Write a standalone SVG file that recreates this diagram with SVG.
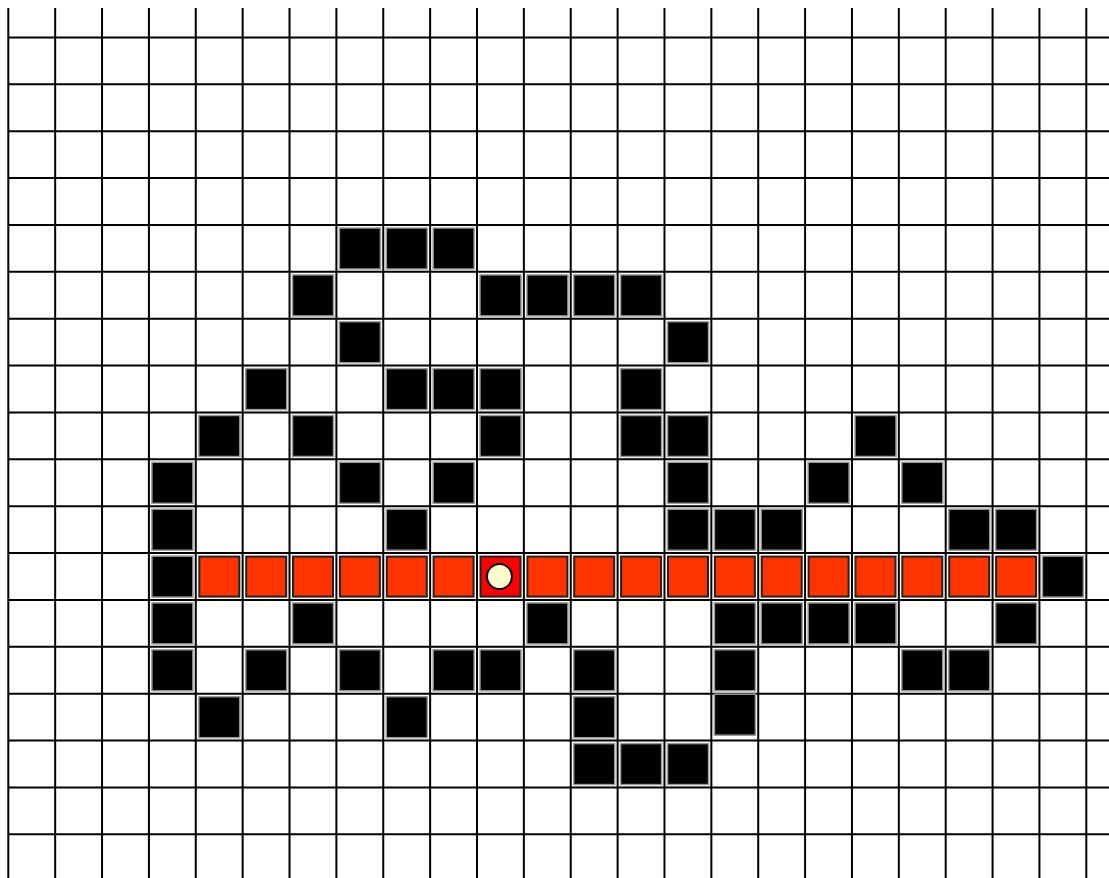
<svg xmlns="http://www.w3.org/2000/svg" xmlns:xlink="http://www.w3.org/1999/xlink" width="1109" height="878" viewBox="0 0 1109 878">
<style>
.grid{stroke:#000;stroke-width:2;fill:none}
.blk{fill:#000;stroke:#999;stroke-width:1.5}
.red{fill:#ff3300;stroke:#222;stroke-width:2}
.spc{fill:#ff0000;stroke:#222;stroke-width:2}
.dot{fill:#ffffcc;stroke:#000;stroke-width:2}
</style>
<defs>
<rect id="b" width="41" height="41" class="blk"/>
<rect id="r" width="40" height="40" class="red"/>
</defs>
<rect width="1109" height="878" fill="#fff"/>
<g id="grid" class="grid">
<path d="M8.3 8V878M55.17 8V878M102.04 8V878M148.91 8V878M195.78 8V878M242.65 8V878M289.52 8V878M336.39 8V878M383.26 8V878M430.13 8V878M477 8V878M523.87 8V878M570.74 8V878M617.61 8V878M664.48 8V878M711.35 8V878M758.22 8V878M805.09 8V878M851.96 8V878M898.83 8V878M945.7 8V878M992.57 8V878M1039.44 8V878M1086.31 8V878"/>
<path d="M8 37.5H1109M8 84.37H1109M8 131.24H1109M8 178.11H1109M8 224.98H1109M8 271.85H1109M8 318.72H1109M8 365.59H1109M8 412.46H1109M8 459.33H1109M8 506.2H1109M8 553.07H1109M8 599.94H1109M8 646.81H1109M8 693.68H1109M8 740.55H1109M8 787.42H1109M8 834.29H1109"/>
</g>
<g id="walls">
<use href="#b" x="339.4" y="228"/><use href="#b" x="386.3" y="228"/><use href="#b" x="433.1" y="228"/>
<use href="#b" x="292.5" y="274.9"/><use href="#b" x="480" y="274.9"/><use href="#b" x="526.9" y="274.9"/><use href="#b" x="573.7" y="274.9"/><use href="#b" x="620.6" y="274.9"/>
<use href="#b" x="339.4" y="321.7"/><use href="#b" x="667.5" y="321.7"/>
<use href="#b" x="245.7" y="368.6"/><use href="#b" x="386.3" y="368.6"/><use href="#b" x="433.1" y="368.6"/><use href="#b" x="480" y="368.6"/><use href="#b" x="620.6" y="368.6"/>
<use href="#b" x="198.8" y="415.5"/><use href="#b" x="292.5" y="415.5"/><use href="#b" x="480" y="415.5"/><use href="#b" x="620.6" y="415.5"/><use href="#b" x="667.5" y="415.5"/><use href="#b" x="855" y="415.5"/>
<use href="#b" x="151.9" y="462.3"/><use href="#b" x="339.4" y="462.3"/><use href="#b" x="433.1" y="462.3"/><use href="#b" x="667.5" y="462.3"/><use href="#b" x="808.1" y="462.3"/><use href="#b" x="901.8" y="462.3"/>
<use href="#b" x="151.9" y="509.2"/><use href="#b" x="386.3" y="509.2"/><use href="#b" x="667.5" y="509.2"/><use href="#b" x="714.4" y="509.2"/><use href="#b" x="761.2" y="509.2"/><use href="#b" x="948.7" y="509.2"/><use href="#b" x="995.6" y="509.2"/>
<use href="#b" x="151.9" y="556.1"/><use href="#b" x="1042.4" y="556.1"/>
<use href="#b" x="151.9" y="602.9"/><use href="#b" x="292.5" y="602.9"/><use href="#b" x="526.9" y="602.9"/><use href="#b" x="714.4" y="602.9"/><use href="#b" x="761.2" y="602.9"/><use href="#b" x="808.1" y="602.9"/><use href="#b" x="855" y="602.9"/><use href="#b" x="995.6" y="602.9"/>
<use href="#b" x="151.9" y="649.8"/><use href="#b" x="245.7" y="649.8"/><use href="#b" x="339.4" y="649.8"/><use href="#b" x="433.1" y="649.8"/><use href="#b" x="480" y="649.8"/><use href="#b" x="573.7" y="649.8"/><use href="#b" x="714.4" y="649.8"/><use href="#b" x="901.8" y="649.8"/><use href="#b" x="948.7" y="649.8"/>
<use href="#b" x="198.8" y="696.7"/><use href="#b" x="386.3" y="696.7"/><use href="#b" x="573.7" y="696.7"/><use href="#b" x="714.4" y="694.2"/>
<use href="#b" x="573.7" y="743.6"/><use href="#b" x="620.6" y="743.6"/><use href="#b" x="667.5" y="743.6"/>
</g>
<g id="path">
<use href="#r" x="199.3" y="556.6"/><use href="#r" x="246.2" y="556.6"/><use href="#r" x="293" y="556.6"/><use href="#r" x="339.9" y="556.6"/><use href="#r" x="386.8" y="556.6"/><use href="#r" x="433.6" y="556.6"/>
<use href="#r" x="527.4" y="556.6"/><use href="#r" x="574.2" y="556.6"/><use href="#r" x="621.1" y="556.6"/><use href="#r" x="668" y="556.6"/><use href="#r" x="714.9" y="556.6"/><use href="#r" x="761.7" y="556.6"/><use href="#r" x="808.6" y="556.6"/><use href="#r" x="855.5" y="556.6"/><use href="#r" x="902.3" y="556.6"/><use href="#r" x="949.2" y="556.6"/><use href="#r" x="996.1" y="556.6"/>
</g>
<g id="agent">
<rect x="480.5" y="556.6" width="40" height="40" class="spc"/>
<circle cx="499.5" cy="576.5" r="12.5" class="dot"/>
</g>
</svg>
